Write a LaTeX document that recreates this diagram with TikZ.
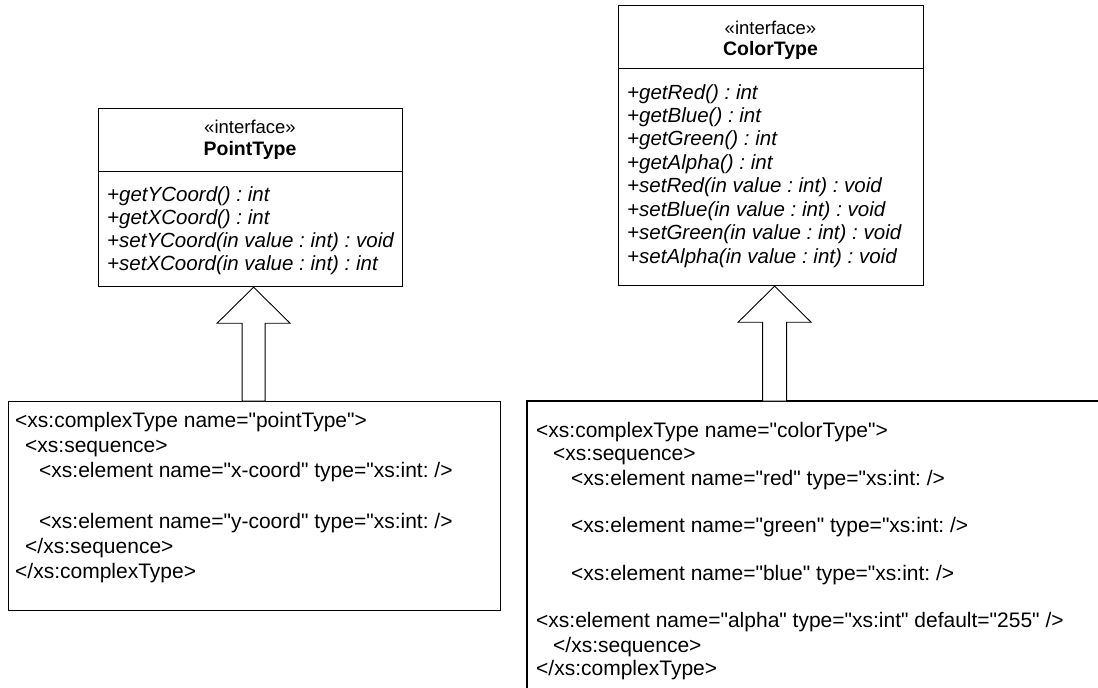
\documentclass[tikz,border=0pt]{standalone}
\usepackage{fontspec}
\setmainfont{Liberation Sans}[Ligatures=TeXOff]
\usetikzlibrary{calc}
\frenchspacing
\begin{document}
\begin{tikzpicture}[x=1pt,y=-1pt,
  box/.style={draw, line width=1.2pt, inner sep=0pt, anchor=north west},
  stereo/.style={font=\fontsize{18.5}{18.5}\selectfont, inner sep=0pt},
  cname/.style={font=\bfseries\fontsize{19.5}{19.5}\selectfont, inner sep=0pt},
  op/.style={font=\itshape\fontsize{20.5}{23}\selectfont, anchor=base west, inner sep=0pt},
  code/.style={font=\fontsize{21}{25}\selectfont, anchor=base west, inner sep=0pt},
  harrow/.style={draw, line width=0.9pt, fill=white, line join=miter}]
\useasboundingbox (0,0) rectangle (1098,688);

% PointType interface
\node[box, minimum width=304pt, minimum height=63pt] (pthead) at (98,108) {};
\node[box, minimum width=304pt, minimum height=115pt] (ptbody) at (98,171) {};
\node[stereo] (ptst) at (250,127) {«interface»};
\node[cname] (ptname) at (250,150) {PointType};
\node[op] (ptop1) at (107,201) {+getYCoord() : int};
\node[op] (ptop2) at (107,224) {+getXCoord() : int};
\node[op] (ptop3) at (107,247) {+setYCoord(in value : int) : void};
\node[op] (ptop4) at (107,270) {+setXCoord(in value : int) : int};

% ColorType interface
\node[box, minimum width=305pt, minimum height=63pt] (cthead) at (618,5) {};
\node[box, minimum width=305pt, minimum height=217pt] (ctbody) at (618,68) {};
\node[stereo] (ctst) at (770.5,28) {«interface»};
\node[cname] (ctname) at (770.5,50) {ColorType};
\node[op] (ctop1) at (627,99) {+getRed() : int};
\node[op] (ctop2) at (627,122) {+getBlue() : int};
\node[op] (ctop3) at (627,145.5) {+getGreen() : int};
\node[op] (ctop4) at (627,169) {+getAlpha() : int};
\node[op] (ctop5) at (627,192.5) {+setRed(in value : int) : void};
\node[op] (ctop6) at (627,216) {+setBlue(in value : int) : void};
\node[op] (ctop7) at (627,239.5) {+setGreen(in value : int) : void};
\node[op] (ctop8) at (627,263) {+setAlpha(in value : int) : void};

% pointType schema box
\node[box, minimum width=492pt, minimum height=209pt] (ptcode) at (8,401) {};
\node[code] (pc1) at (15,427) {<xs:complexType name="pointType">};
\node[code] (pc2) at (25,452) {<xs:sequence>};
\node[code] (pc3) at (39,477) {<xs:element name="x-coord" type="xs:int: />};
\node[code] (pc4) at (39,528) {<xs:element name="y-coord" type="xs:int: />};
\node[code] (pc5) at (25,553) {</xs:sequence>};
\node[code] (pc6) at (15,578) {</xs:complexType>};

% colorType schema box (runs past the right and bottom edges)
\node[anchor=north west, inner sep=0pt, minimum width=600pt, minimum height=300pt] (ctcode) at (527,401) {};
\draw[line width=1.2pt] (ctcode.south west) -- (ctcode.north west) -- (ctcode.north east);
\node[code] (cc1) at (536,437) {<xs:complexType name="colorType">};
\node[code] (cc2) at (553,460) {<xs:sequence>};
\node[code] (cc3) at (571,485) {<xs:element name="red" type="xs:int: />};
\node[code] (cc4) at (571,532) {<xs:element name="green" type="xs:int: />};
\node[code] (cc5) at (571,580) {<xs:element name="blue" type="xs:int: />};
\node[code] (cc6) at (536,627) {<xs:element name="alpha" type="xs:int" default="255" />};
\node[code] (cc7) at (553,652) {</xs:sequence>};
\node[code] (cc8) at (536,675) {</xs:complexType>};

% realization arrows (hollow block arrows)
\coordinate (pa) at ($(ptbody.south)+(3,0)$);
\coordinate (pf) at (pa |- ptcode.north);
\draw[harrow] (pa) -- ($(pa)+(36.5,36)$) -- ($(pa)+(11.5,36)$) -- ($(pf)+(11.5,0)$)
  -- ($(pf)+(-11.5,0)$) -- ($(pa)+(-11.5,36)$) -- ($(pa)+(-36.5,36)$) -- cycle;
\coordinate (ca) at ($(ctbody.south)+(3.5,0)$);
\coordinate (cf) at (ca |- ctcode.north);
\draw[harrow] (ca) -- ($(ca)+(36.5,36)$) -- ($(ca)+(12,36)$) -- ($(cf)+(12,0)$)
  -- ($(cf)+(-12,0)$) -- ($(ca)+(-12,36)$) -- ($(ca)+(-36.5,36)$) -- cycle;
\end{tikzpicture}
\end{document}
